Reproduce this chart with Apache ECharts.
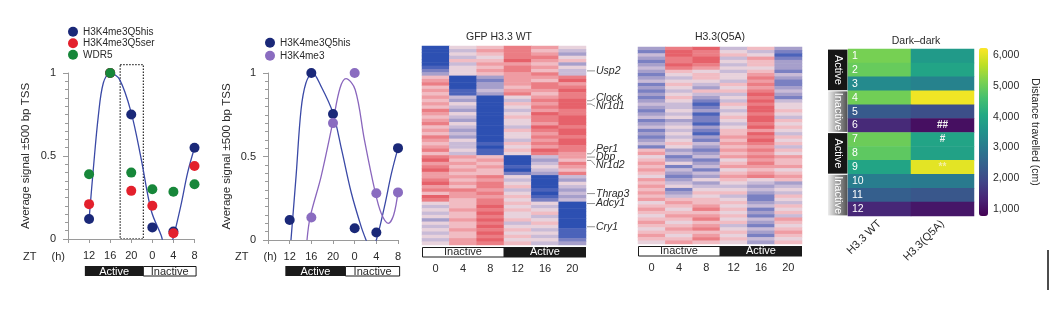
<!DOCTYPE html>
<html><head><meta charset="utf-8">
<script src="https://cdn.jsdelivr.net/npm/echarts@6/dist/echarts.min.js"></script>
<style>html,body{margin:0;padding:0;background:#fff}#c{width:1050px;height:322px}</style>
</head><body><div id="c"></div>
<script>
// ---------- DATA ----------
const ztTicks = [12, 16, 20, 24, 28, 32];
const ztLabels = ['12', '16', '20', '0', '4', '8'];
// panel a
const q5hisA = [0.12, 1.0, 0.75, 0.07, 0.045, 0.55];
const q5serA = [0.21, 1.0, 0.29, 0.20, 0.035, 0.44];
const wdr5A  = [0.39, 1.0, 0.40, 0.30, 0.285, 0.33];
const fitA_zt  = [12, 12.8, 13.75, 14.7, 16, 17.8, 20, 21.9, 23.8, 25.7, 26.5, 27.2, 27.9, 29.4, 30.7, 32];
const fitA_val = [0.12, 0.42, 0.74, 0.94, 1.0, 0.96, 0.76, 0.48, 0.17, 0.02, -0.06, -0.06, 0.0, 0.2, 0.4, 0.55];
// panel b
const q5hisB = [0.12, 1.0, 0.755, 0.07, 0.045, 0.55];
const k4me3B = [null, 0.135, 0.70, 1.0, 0.28, 0.285];
const fitB_zt  = [12.24, 13.2, 14.1, 15.0, 16.2, 17.8, 20, 21.6, 23.4, 25.2, 26.1, 27, 28, 29.5, 30.8, 32];
const fitB_val = [0, 0.39, 0.78, 0.94, 1.0, 0.92, 0.76, 0.54, 0.28, 0.08, 0, -0.07, 0, 0.2, 0.4, 0.55];
const fitC_zt  = [15.2, 15.8, 17.8, 20, 21.3, 22.4, 24.1, 25.8, 27.7, 28.9, 30.2, 31.2, 32];
const fitC_val = [0, 0.14, 0.38, 0.71, 0.91, 0.966, 0.9, 0.6, 0.3, 0.16, 0.1, 0.15, 0.29];
// heatmaps (digit 0 = blue ... 9 = red), columns ZT 0,4,8,12,16,20
const heatCols = ['0', '4', '8', '12', '16', '20'];
const wtRows = [
 '056875','047864','056873','045885','066976','047763','156875','257864','356784',
 '603778','702769','803787','603688','714779','613868',
 '740578','630489','750679','640589','830478','750598','640689','730589','850579',
 '640498','730689','640579','830588','750479','641689','740578','851698','641587',
 '876047','967036','776048','867157','976046','766238',
 '778504','867403','978505','768604','887413','678504','977613','868524',
 '568650','469540','578650','469560','568540','379650','568460','469550','578641',
 '469551','568641','479552','578643'];
const q5aRows = [
 '389463','298542','498651','389472','289563','398463','487553','365462','256574',
 '346583','455472','264682','353573','246684','354493','263582','352494','441685',
 '342595','253496','341585','452694','232596','341485','453596','242675','351694',
 '243786','352695','464786','253674','632786','743675','524787','632576','753686',
 '624777','742565','634676','523787','735656','643543','754434','625545','736634',
 '645426','766525','576634','667546','758625','666536','577624','668547','756636',
 '667425','578546','666637','757526','668645','576536'];
const genes = ['Usp2', 'Clock', 'Nr1d1', 'Per1', 'Dbp', 'Nr1d2', 'Thrap3', 'Adcy1', 'Cry1'];
const geneRows = [7, 16, 17, 32, 33, 34, 44, 47, 54];
// dark-dark
const ddCols = ['H3.3 WT', 'H3.3(Q5A)'];
const ddRows = ['1','2','3','4','5','6','7','8','9','10','11','12'];
const ddWT   = [5100, 4950, 3340, 5050, 2300, 1420, 5000, 4850, 3950, 3060, 2410, 1370];
const ddQ5A  = [3720, 3940, 3170, 6120, 2080, 990, 3940, 3880, 6010, 3000, 2240, 1100];
const ddAnn  = ['', '', '', '', '', '##', '#', '', '**', '', '', ''];
const ddPhase = ['Active', 'Inactive', 'Active', 'Inactive'];
const cbTicks = [1000, 2000, 3000, 4000, 5000, 6000];

// ---------- CHART ----------
const FONT = '"Liberation Sans", Arial, Helvetica, sans-serif';
const TXT = '#2a2a2a';
const AX = '#9a9a9a';
const NAVY = '#1a2878', RED = '#e3202c', GREEN = '#17873a', PURPLE = '#8a6cc0';
const heatColors = ['#2d50b2','#4b63ba','#7a80c2','#a69fcb','#c9bbd7','#e8d2dc','#f1bcc3','#ef9ca3','#eb7d84','#e6616a'];
const viridis = ['#440154','#482475','#414487','#355f8d','#2a788e','#21918c','#22a884','#44bf70','#7ad151','#bddf26','#fde725'];

const chart = echarts.init(document.getElementById('c'));

function ztAxis(g) {
  return {type: 'value', gridIndex: g, min: 8, max: 32, interval: 4,
    axisLine: {lineStyle: {color: AX}}, axisTick: {length: 4, lineStyle: {color: AX}},
    axisLabel: {fontSize: 11, color: TXT, margin: 11,
      formatter: v => { const i = ztTicks.indexOf(v); return i < 0 ? '' : ztLabels[i]; }},
    splitLine: {show: false}};
}
function sigAxis(g, gap) {
  return {type: 'value', gridIndex: g, min: 0, max: 1, interval: 0.5,
    axisLine: {show: true, lineStyle: {color: AX}},
    axisTick: {show: true, length: 5, lineStyle: {color: AX}},
    minorTick: {show: true, splitNumber: 10, length: 3, lineStyle: {color: AX}},
    axisLabel: {fontSize: 11, color: TXT, margin: 12},
    splitLine: {show: false},
    name: 'Average signal ±500 bp TSS', nameLocation: 'middle', nameGap: gap,
    nameTextStyle: {fontSize: 11.5, color: TXT}};
}
function heatX(g) {
  return {type: 'category', gridIndex: g, data: heatCols, axisLine: {show: false}, axisTick: {show: false},
    axisLabel: {fontSize: 11, color: TXT, margin: 18}};
}
function heatY(g, n) {
  return {type: 'category', gridIndex: g, data: Array.from({length: n}, (_, i) => String(i)), inverse: true, show: false};
}
function heatData(rows) {
  const d = [];
  rows.forEach((s, r) => { for (let c = 0; c < s.length; c++) d.push([c, r, +s[c]]); });
  return d;
}
const pair = (xs, ys) => xs.map((x, i) => [x, ys[i]]).filter(p => p[1] != null);

const ddData = [];
ddRows.forEach((r, i) => {
  ddData.push({value: [0, i, ddWT[i]]});
  ddData.push({value: [1, i, ddQ5A[i]], label: {show: !!ddAnn[i], formatter: ddAnn[i],
    color: ddAnn[i] === '**' ? '#f4eea0' : '#f2f2f2', fontSize: 10, fontWeight: 'bold'}});
});
const dot = (name, gi, ys, color) => ({name, type: 'scatter', xAxisIndex: gi, yAxisIndex: gi,
  data: pair(ztTicks, ys), symbolSize: 10, itemStyle: {color, opacity: 1}, z: 3});

const option = {
  animation: false,
  textStyle: {fontFamily: FONT},
  grid: [
    {left: 68, top: 73, width: 126.5, height: 166},
    {left: 268, top: 73, width: 130, height: 167},
    {left: 422, top: 46, width: 164, height: 199},
    {left: 638, top: 47, width: 164, height: 197},
    {left: 848, top: 49, width: 126, height: 167},
    {left: 979, top: 48, width: 9, height: 168}
  ],
  xAxis: [ztAxis(0), ztAxis(1), heatX(2), heatX(3),
    {type: 'category', gridIndex: 4, data: ddCols, axisLine: {show: false}, axisTick: {show: false},
      axisLabel: {rotate: 45, fontSize: 11, color: TXT, margin: 6}},
    {type: 'value', gridIndex: 5, show: false}],
  yAxis: [sigAxis(0, 36), sigAxis(1, 35), heatY(2, wtRows.length), heatY(3, q5aRows.length),
    {type: 'category', gridIndex: 4, data: ddRows, inverse: true, z: 10, axisLine: {show: false}, axisTick: {show: false},
      axisLabel: {inside: true, interval: 0, color: '#ffffff', fontSize: 10.5, margin: 4}},
    {type: 'value', gridIndex: 5, position: 'right', min: 770, max: 6230,
      axisLine: {show: false}, axisTick: {show: false}, splitLine: {show: false},
      axisLabel: {customValues: cbTicks, fontSize: 10.5, color: TXT, margin: 5,
        formatter: v => v.toLocaleString('en-US')},
      name: 'Distance travelled (cm)', nameLocation: 'middle', nameRotate: -90, nameGap: 41,
      nameTextStyle: {fontSize: 10.5, color: TXT}}],
  legend: [
    {data: ['H3K4me3Q5his', 'H3K4me3Q5ser', 'WDR5'], orient: 'vertical', left: 68, top: 26,
      itemWidth: 10, itemHeight: 10, itemGap: 0, icon: 'circle', padding: 0, selectedMode: false,
      textStyle: {fontSize: 10, color: TXT, lineHeight: 11.5}},
    {data: ['H3K4me3Q5his', 'H3K4me3'], orient: 'vertical', left: 265, top: 37,
      itemWidth: 10, itemHeight: 10, itemGap: 1.5, icon: 'circle', padding: 0, selectedMode: false,
      textStyle: {fontSize: 10, color: TXT, lineHeight: 11.5}}
  ],
  visualMap: [
    {type: 'continuous', seriesIndex: [8, 9], min: 0, max: 9, show: false, inRange: {color: heatColors}},
    {type: 'continuous', seriesIndex: [10], min: 770, max: 6230, show: true, calculable: false,
      left: 979, top: 48, itemWidth: 9, itemHeight: 168, padding: 0, hoverLink: false,
      inRange: {color: viridis}}
  ],
  series: [
    {name: 'fitA', type: 'line', xAxisIndex: 0, yAxisIndex: 0, data: pair(fitA_zt, fitA_val), smooth: 0.35,
      symbol: 'none', lineStyle: {color: '#3a49a6', width: 1.3}, silent: true},
    dot('H3K4me3Q5his', 0, q5hisA, NAVY),
    dot('H3K4me3Q5ser', 0, q5serA, RED),
    dot('WDR5', 0, wdr5A, GREEN),
    {name: 'fitB', type: 'line', xAxisIndex: 1, yAxisIndex: 1, data: pair(fitB_zt, fitB_val), smooth: 0.35,
      symbol: 'none', lineStyle: {color: '#3a49a6', width: 1.3}, silent: true},
    {name: 'fitC', type: 'line', xAxisIndex: 1, yAxisIndex: 1, data: pair(fitC_zt, fitC_val), smooth: 0.35,
      symbol: 'none', lineStyle: {color: '#8a66bd', width: 1.3}, silent: true},
    dot('H3K4me3Q5his', 1, q5hisB, NAVY),
    dot('H3K4me3', 1, k4me3B, PURPLE),
    {type: 'heatmap', xAxisIndex: 2, yAxisIndex: 2, data: heatData(wtRows), emphasis: {disabled: true}},
    {type: 'heatmap', xAxisIndex: 3, yAxisIndex: 3, data: heatData(q5aRows), emphasis: {disabled: true}},
    {type: 'heatmap', xAxisIndex: 4, yAxisIndex: 4, data: ddData, emphasis: {disabled: true}, z: 2}
  ]
};
chart.setOption(option);

// ---------- ANNOTATIONS (positions from the library's scales) ----------
const P = (g, pt) => chart.convertToPixel({gridIndex: g}, pt);
const gfx = [];
const txt = (x, y, s, o) => gfx.push({type: 'text', x, y, silent: true, z: 100,
  style: Object.assign({text: s, fill: TXT, font: '11px ' + FONT, align: 'center', verticalAlign: 'middle'}, o || {})});
const rect = (x, y, w, h, st) => gfx.push({type: 'rect', silent: true, shape: {x, y, width: w, height: h}, style: st});

// ZT (h) labels
[[0, -45, -3], [1, -33, 9]].forEach(([g, a, b]) => {
  const o = P(g, [8, 0]);
  txt(o[0] + a, 257, 'ZT', {align: 'left'});
  txt(o[0] + b, 257, '(h)', {align: 'right'});
});
// phase bars under line plots
[0, 1].forEach(g => {
  const a = P(g, [11.2, 0])[0], m = P(g, [22.3, 0])[0], e = P(g, [32.3, 0])[0];
  rect(a, 266, m - a, 10, {fill: '#1a1a1a'});
  rect(m, 266.5, e - m, 9.5, {fill: '#fff', stroke: '#1a1a1a', lineWidth: 1});
  txt((a + m) / 2, 271.5, 'Active', {fill: '#fff'});
  txt((m + e) / 2, 271.5, 'Inactive');
});
// dashed box panel a
{
  const tl = P(0, [17.9, 1.05]), br = P(0, [22.3, 0]);
  rect(tl[0], tl[1], br[0] - tl[0], br[1] - tl[1], {fill: 'none', stroke: '#333', lineWidth: 1.3, lineDash: [1.5, 1.5]});
}
// heatmap titles & phase bars
[[2, 'GFP H3.3 WT', 37, wtRows.length], [3, 'H3.3(Q5A)', 37, q5aRows.length]].forEach(([g, t, ty, n]) => {
  const tl = P(g, [0, 0]), br = P(g, [5, n - 1]);
  const cw = (br[0] - tl[0]) / 5, rh = (br[1] - tl[1]) / (n - 1);
  const x0 = tl[0] - cw / 2, x1 = br[0] + cw / 2, yb = br[1] + rh / 2;
  txt((x0 + x1) / 2 - (g === 2 ? 5 : 0), ty, t, {font: '10.5px ' + FONT});
  const xm = (x0 + x1) / 2;
  rect(x0 + 0.5, yb + 2.5, xm - x0 - 0.5, 9.5, {fill: '#fff', stroke: '#1a1a1a', lineWidth: 1});
  rect(xm, yb + 2, x1 - xm, 10.5, {fill: '#1a1a1a'});
  txt((x0 + xm) / 2, yb + 7.3, 'Inactive');
  txt((xm + x1) / 2, yb + 7.3, 'Active', {fill: '#fff'});
});
// gene labels
{
  const right = P(2, [5, 0])[0] + (P(2, [5, 0])[0] - P(2, [4, 0])[0]) / 2;
  const gy = geneRows.map(r => P(2, [5, r])[1]);
  const ty = gy.slice(), gap = 8;
  const clusters = []; let cur = [0];
  for (let i = 1; i < gy.length; i++) { if (gy[i] - gy[i - 1] < gap) cur.push(i); else { clusters.push(cur); cur = [i]; } }
  clusters.push(cur);
  clusters.forEach(c => {
    const mean = c.reduce((s, i) => s + gy[i], 0) / c.length;
    c.forEach((idx, k) => { ty[idx] = mean + (k - (c.length - 1) / 2) * gap; });
  });
  genes.forEach((gname, i) => {
    gfx.push({type: 'polyline', silent: true, shape: {points: [[right + 1, gy[i]], [right + 5, gy[i]], [right + 9, ty[i]]]},
      style: {stroke: '#777', lineWidth: 0.8, fill: 'none'}});
    txt(right + 10, ty[i], gname, {align: 'left', font: 'italic 10.5px ' + FONT});
  });
}
// dark-dark title & phase strip
{
  const c0 = P(4, [0, 0]), c1 = P(4, [1, 11]);
  const cw = c1[0] - c0[0], rh = (c1[1] - c0[1]) / 11;
  const gl = c0[0] - cw / 2, gr = c1[0] + cw / 2;
  txt((gl + gr) / 2 + 5, 41, 'Dark–dark', {font: '10.5px ' + FONT});
  ddPhase.forEach((ph, k) => {
    const y0 = P(4, [0, 3 * k])[1] - rh / 2 + 0.6, y1 = P(4, [0, 3 * k + 2])[1] + rh / 2 - 0.6;
    const x0 = gl - 20, w = 19.5;
    const fill = ph === 'Active' ? '#161616' : new echarts.graphic.LinearGradient(0, 0, 1, 0,
      [{offset: 0, color: '#ececec'}, {offset: 1, color: '#505050'}]);
    rect(x0, y0, w, y1 - y0, {fill});
    gfx.push({type: 'text', silent: true, x: x0 + w / 2, y: (y0 + y1) / 2, rotation: -Math.PI / 2,
      style: {text: ph, fill: '#fff', font: '11px ' + FONT, align: 'center', verticalAlign: 'middle'}});
  });
}
// stray vertical rule at bottom right
gfx.push({type: 'line', silent: true, shape: {x1: 1048, y1: 250, x2: 1048, y2: 290}, style: {stroke: '#111', lineWidth: 1.5}});

chart.setOption({graphic: gfx});
</script>
</body></html>
